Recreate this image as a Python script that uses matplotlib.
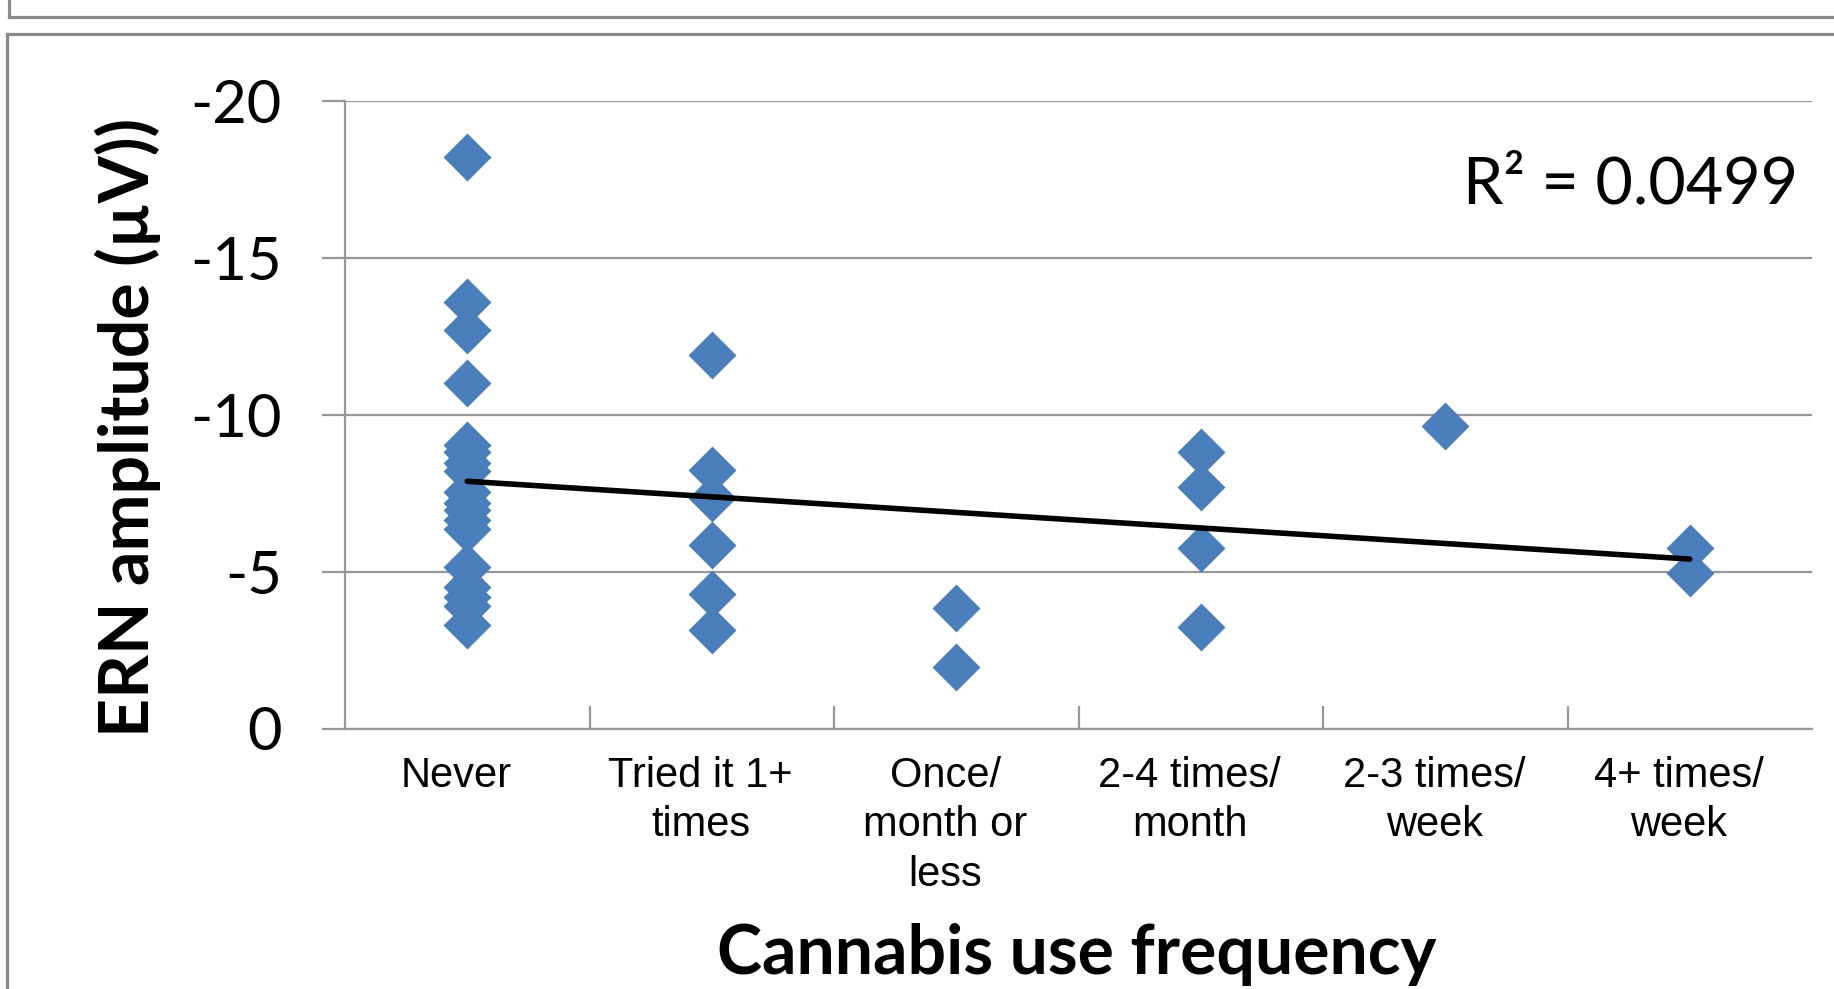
import matplotlib
matplotlib.use("Agg")
import matplotlib.pyplot as plt
from matplotlib.lines import Line2D
from matplotlib.path import Path
from matplotlib.transforms import ScaledTranslation

# ---------------- data ----------------
categories = ["Never", "Tried it 1+\ntimes", "Once/\nmonth or\nless",
              "2-4 times/\nmonth", "2-3 times/\nweek", "4+ times/\nweek"]
never = [-18.2, -13.6, -12.7, -11.0, -9.05, -8.8, -8.45, -8.2, -7.55, -7.2,
         -6.95, -6.65, -6.35, -5.15, -4.5, -4.2, -3.9, -3.3]
tried = [-11.9, -8.25, -7.35, -5.85, -4.3, -3.15]
once_month = [-3.85, -1.95]
two_four_month = [-8.8, -7.7, -5.75, -3.25]
two_three_week = [-9.65]
four_plus_week = [-5.75, -4.95]
groups = [never, tried, once_month, two_four_month, two_three_week, four_plus_week]
trend_x = [1, 6]
trend_y = [-7.88, -5.40]
y_ticks = [0, -5, -10, -15, -20]
y_ticklabels = ["0", "-5", "-10", "-15", "-20"]
r2_text = "R\u00b2 = 0.0499"
xlabel = "Cannabis use frequency"
ylabel = "ERN amplitude (\u00b5V))"

# ---------------- figure ----------------
W, H, DPI = 1834, 989, 100
fig = plt.figure(figsize=(W / DPI, H / DPI), dpi=DPI)
fig.patch.set_facecolor("white")

def px(x, y):
    return x / W, 1 - y / H

left, right, top, bottom = 345, 1812, 101, 728.5
ax = fig.add_axes([left / W, 1 - bottom / H, (right - left) / W, (bottom - top) / H])

grid_c = "#979797"
blue = "#4A7EBB"

diamond = Path([(0, 1), (1, 0), (0, -1), (-1, 0), (0, 1)],
               [Path.MOVETO, Path.LINETO, Path.LINETO, Path.LINETO, Path.CLOSEPOLY])

for i, vals in enumerate(groups):
    ax.plot([i + 1] * len(vals), vals, linestyle="none", marker=diamond,
            markersize=34.5, markerfacecolor=blue, markeredgecolor="none",
            zorder=3, clip_on=False)

ax.plot(trend_x, trend_y, color="black", linewidth=4.0, zorder=4,
        solid_capstyle="round")

ax.set_xlim(0.5, 6.5)
ax.set_ylim(0, -20)

# spines
for s in ["top", "right"]:
    ax.spines[s].set_visible(False)
for s in ["left", "bottom"]:
    ax.spines[s].set_color(grid_c)
    ax.spines[s].set_linewidth(1.6)

# y axis
ax.set_yticks(y_ticks)
ax.set_yticklabels(y_ticklabels, fontfamily="Lato", fontsize=43)
ax.tick_params(axis="y", direction="out", length=16.5, width=1.6,
               color=grid_c, pad=29)
ax.yaxis.grid(True, color=grid_c, linewidth=1.6)
ax.set_axisbelow(True)

# x axis: major ticks between categories, labels at category centres
ax.set_xticks([1.5, 2.5, 3.5, 4.5, 5.5])
ax.set_xticklabels([])
ax.tick_params(axis="x", which="major", direction="in", length=16.5,
               width=1.6, color=grid_c)
ax.set_xticks(range(1, len(categories) + 1), minor=True)
ax.set_xticklabels(categories, minor=True, fontfamily="Liberation Sans",
                   fontsize=30, linespacing=1.31)
ax.tick_params(axis="x", which="minor", length=0, pad=19.5)
off = ScaledTranslation(-11 / DPI, 0, fig.dpi_scale_trans)
for lab in ax.get_xticklabels(minor=True):
    lab.set_transform(lab.get_transform() + off)

# labels
fig.text(*px(1077, 955), xlabel, fontfamily="Lato", fontweight="bold",
         fontsize=49, ha="center", va="center")
fig.text(*px(128, 427), ylabel, fontfamily="Lato", fontweight="bold",
         fontsize=49, ha="center", va="center", rotation=90)

# R^2 annotation
fig.text(*px(1798, 185), r2_text, fontfamily="Lato", fontsize=46.5,
         ha="right", va="center")

# frames (chart border + panel above)
frame_c = "#8a8a8a"
fig.lines.extend([
    Line2D([px(7, 0)[0], px(7, 0)[0]], [px(0, 34)[1], 0], transform=fig.transFigure,
           color=frame_c, linewidth=2.3),
    Line2D([px(7, 0)[0], 1], [px(0, 34)[1], px(0, 34)[1]], transform=fig.transFigure,
           color=frame_c, linewidth=2.3),
    Line2D([px(9, 0)[0], 1], [px(0, 17)[1], px(0, 17)[1]], transform=fig.transFigure,
           color=frame_c, linewidth=2.3),
    Line2D([px(9, 0)[0], px(9, 0)[0]], [1, px(0, 17)[1]], transform=fig.transFigure,
           color=frame_c, linewidth=2.3),
])

fig.savefig("out.png", dpi=DPI)
